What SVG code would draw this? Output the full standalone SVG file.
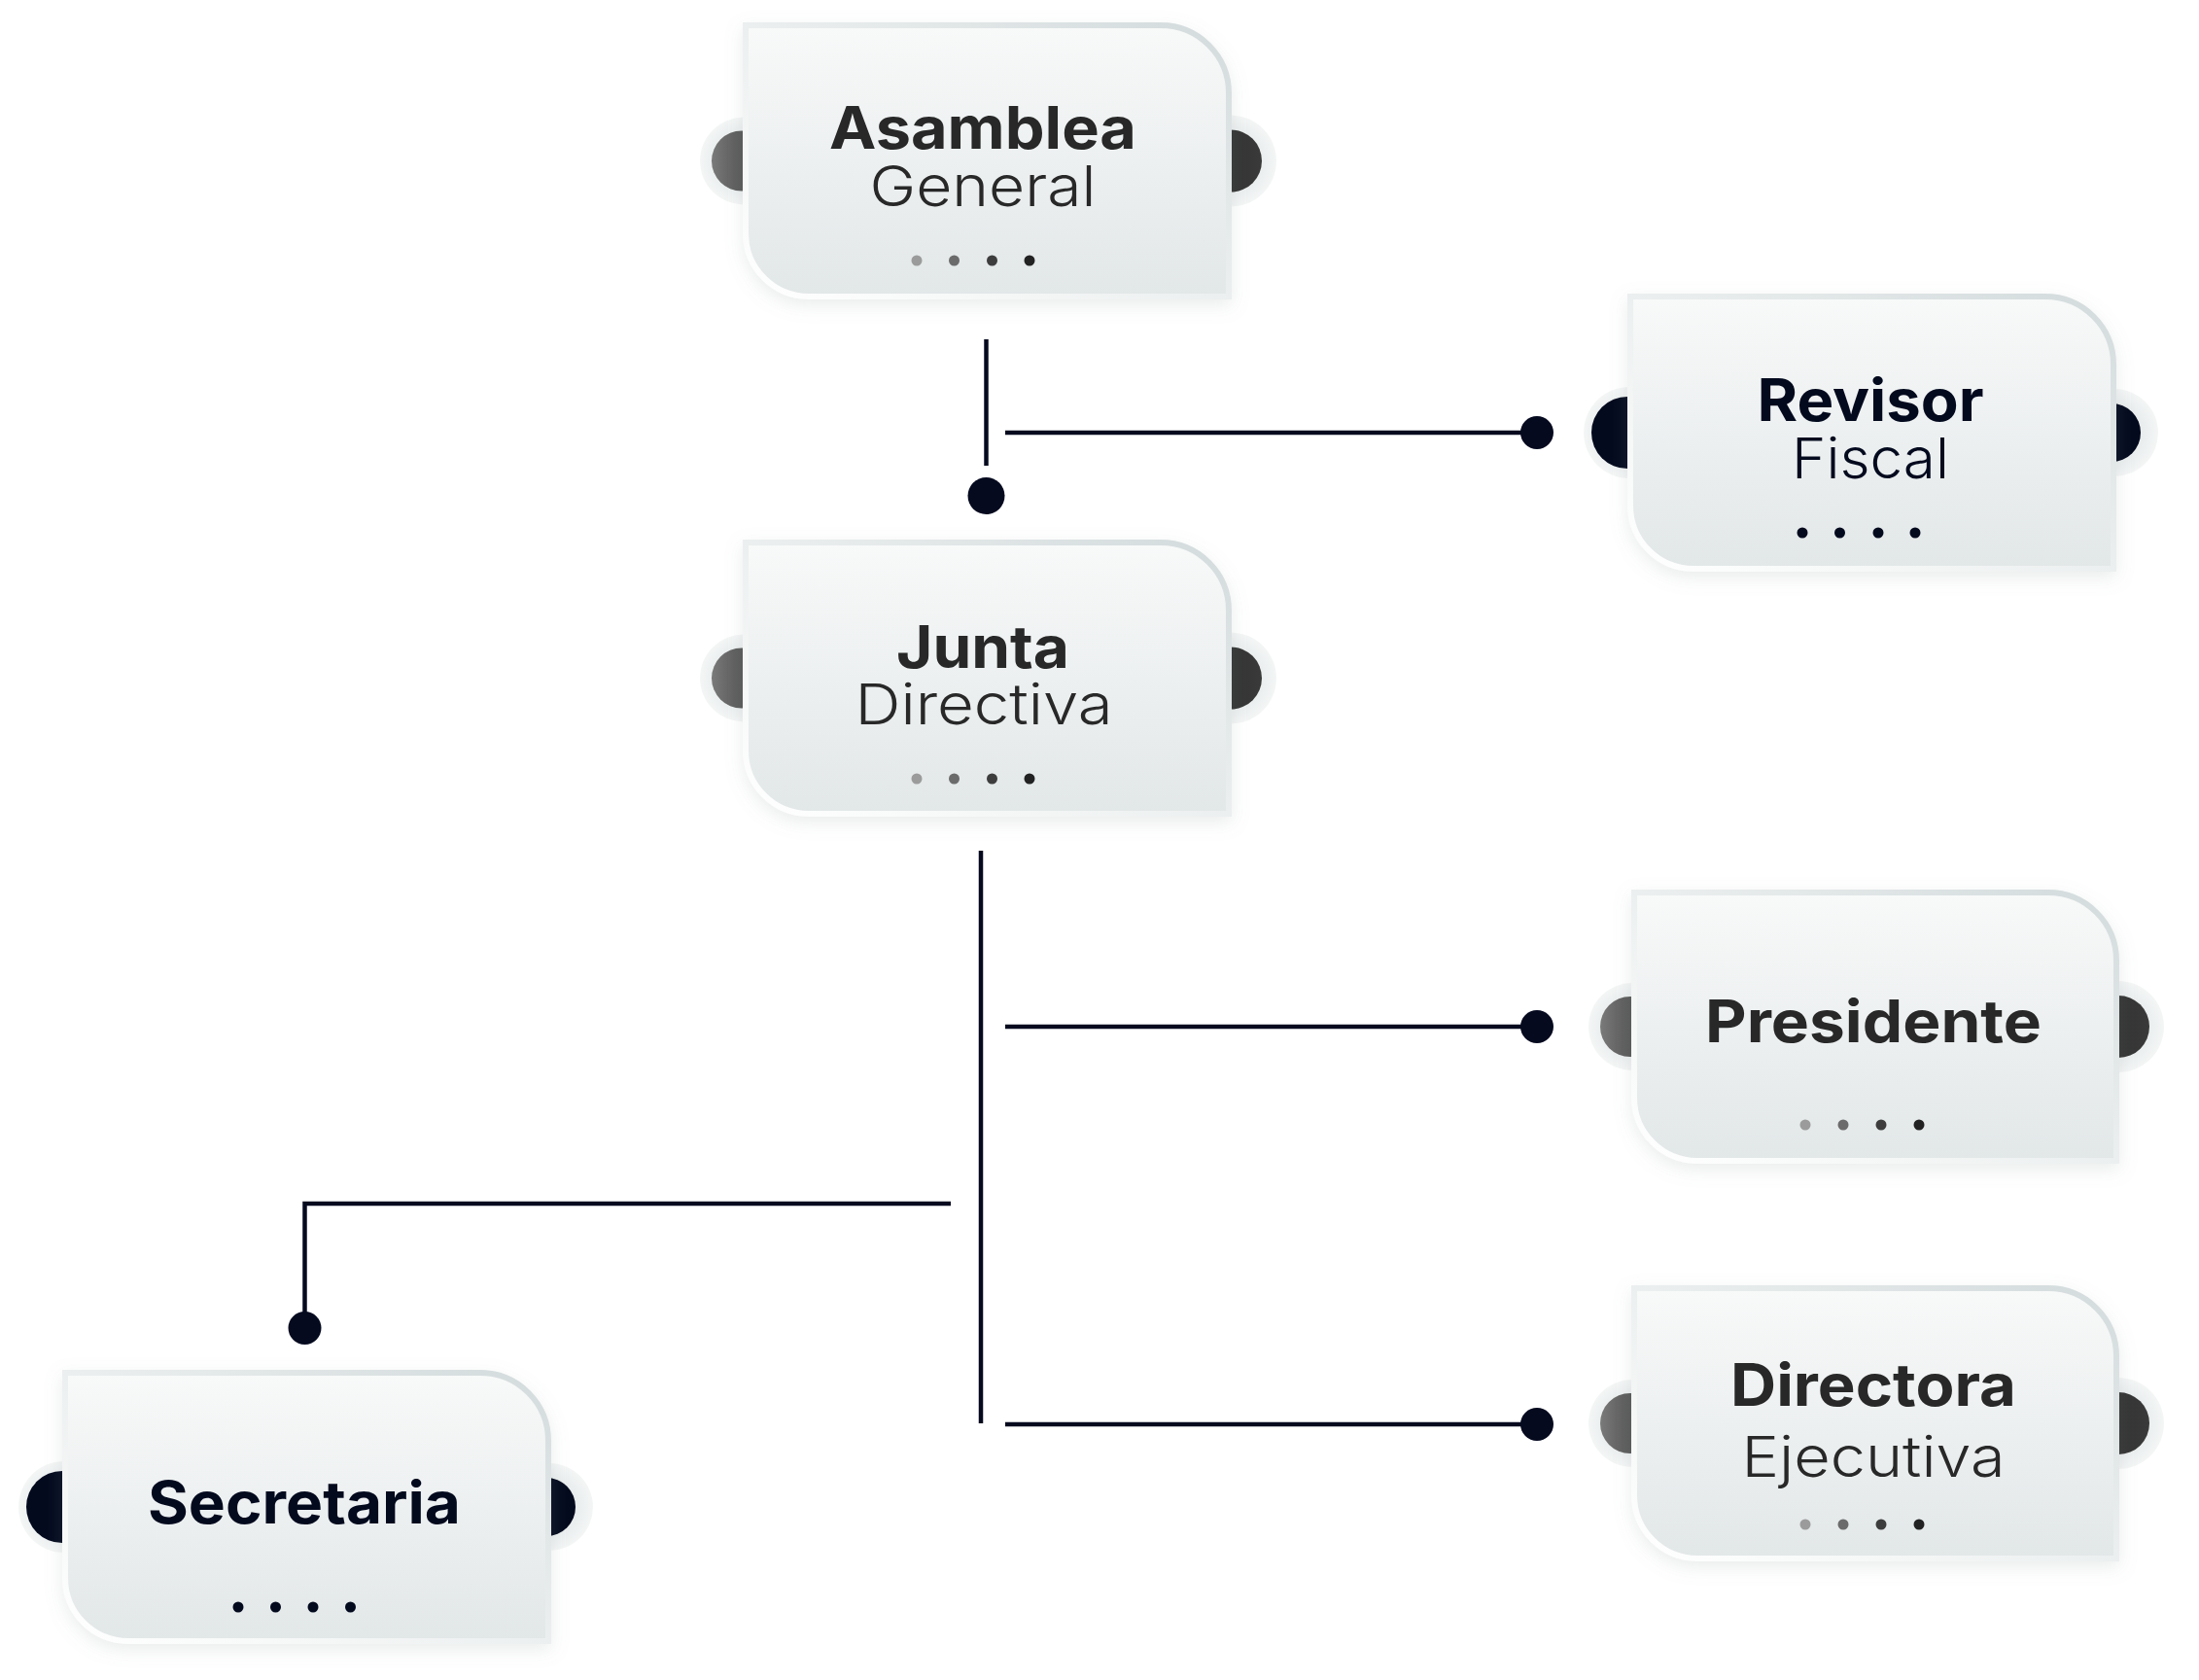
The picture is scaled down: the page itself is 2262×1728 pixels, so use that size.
<svg xmlns="http://www.w3.org/2000/svg" width="2262" height="1728" viewBox="0 0 2262 1728">
<style>
.box{fill:url(#boxFill);stroke:url(#boxStroke);stroke-width:6;filter:url(#shadow)}
.halo{fill:url(#haloFill)}
.tabL{fill:url(#tabGrayL)}
.tabR{fill:url(#tabGrayR)}
.navy{fill:#030a1e}
.t-bold{font-family:Inter,"Noto Sans","Liberation Sans",sans-serif;font-weight:700;font-size:60px;text-anchor:middle}
.t-light{font-family:Inter,"Noto Sans","Liberation Sans",sans-serif;font-weight:300;font-size:58px;text-anchor:middle}
.gray{fill:#282828}
.ntext{fill:#030a1e}
.d1{fill:#9b9b9b}.d2{fill:#6b6b6b}.d3{fill:#3d3d3d}.d4{fill:#222}
.conn{stroke:#050a1f;stroke-width:4.5;fill:none}
.cdot{fill:#050a1f}
</style>
<defs>
<linearGradient id="boxFill" x1="0" y1="0" x2="0" y2="1">
<stop offset="0" stop-color="#f8f9f9"/>
<stop offset="1" stop-color="#e2e7e8"/>
</linearGradient>
<linearGradient id="boxStroke" x1="0" y1="1" x2="1" y2="0">
<stop offset="0" stop-color="#ffffff"/>
<stop offset="0.45" stop-color="#eef1f1"/>
<stop offset="1" stop-color="#d3dbdc"/>
</linearGradient>
<radialGradient id="haloFill">
<stop offset="0.6" stop-color="#e8ecec"/>
<stop offset="1" stop-color="#f4f6f6"/>
</radialGradient>
<linearGradient id="tabGrayL" x1="0" y1="0" x2="1" y2="0">
<stop offset="0" stop-color="#7a7a7a"/>
<stop offset="1" stop-color="#333"/>
</linearGradient>
<linearGradient id="tabGrayR" x1="0" y1="0" x2="1" y2="0">
<stop offset="0" stop-color="#2a2a2a"/>
<stop offset="1" stop-color="#3a3a3a"/>
</linearGradient>
<filter id="shadow" x="-10%" y="-10%" width="120%" height="125%">
<feDropShadow dx="0" dy="6" stdDeviation="9" flood-color="#8a9596" flood-opacity="0.18"/>
</filter>
</defs>
<rect width="2262" height="1728" fill="#ffffff"/>

<g id="connectors">
<line class="conn" x1="1014.5" y1="349" x2="1014.5" y2="479"/>
<circle class="cdot" cx="1014.5" cy="510" r="19"/>
<line class="conn" x1="1034" y1="445" x2="1581" y2="445"/>
<circle class="cdot" cx="1581" cy="445" r="17"/>
<line class="conn" x1="1009" y1="875" x2="1009" y2="1464"/>
<line class="conn" x1="1034" y1="1056" x2="1581" y2="1056"/>
<circle class="cdot" cx="1581" cy="1056" r="17"/>
<line class="conn" x1="1034" y1="1465" x2="1581" y2="1465"/>
<circle class="cdot" cx="1581" cy="1465" r="17"/>
<path class="conn" d="M978 1238 H313.5 V1366"/>
<circle class="cdot" cx="313.5" cy="1366" r="17"/>
</g>

<g id="asamblea-general">
<circle class="halo" cx="765" cy="165.5" r="45"/>
<circle class="halo" cx="1266" cy="165.5" r="47"/>
<circle class="tabL" cx="763" cy="165.5" r="31"/>
<circle class="tabR" cx="1266" cy="165.5" r="32"/>
<path class="box" d="M767 26 H1194 A70 70 0 0 1 1264 96 V305 H832 A65 65 0 0 1 767 240 Z"/>
<text class="t-bold gray" x="1011" y="153" textLength="316" lengthAdjust="spacingAndGlyphs">Asamblea</text>
<text class="t-light gray" x="1011" y="212" textLength="233" lengthAdjust="spacingAndGlyphs">General</text>
<circle class="d1" cx="943" cy="268" r="5.5"/><circle class="d2" cx="981.5" cy="268" r="5.5"/><circle class="d3" cx="1020.5" cy="268" r="5.5"/><circle class="d4" cx="1059" cy="268" r="5.5"/>
</g>

<g id="junta-directiva">
<circle class="halo" cx="765" cy="697.5" r="45"/>
<circle class="halo" cx="1266" cy="697.5" r="47"/>
<circle class="tabL" cx="763" cy="697.5" r="31"/>
<circle class="tabR" cx="1266" cy="697.5" r="32"/>
<path class="box" d="M767 558 H1194 A70 70 0 0 1 1264 628 V837 H832 A65 65 0 0 1 767 772 Z"/>
<text class="t-bold gray" x="1011" y="687" textLength="178" lengthAdjust="spacingAndGlyphs">Junta</text>
<text class="t-light gray" x="1012" y="745" textLength="265" lengthAdjust="spacingAndGlyphs">Directiva</text>
<circle class="d1" cx="943" cy="801" r="5.5"/><circle class="d2" cx="981.5" cy="801" r="5.5"/><circle class="d3" cx="1020.5" cy="801" r="5.5"/><circle class="d4" cx="1059" cy="801" r="5.5"/>
</g>

<g id="revisor-fiscal">
<circle class="halo" cx="1676" cy="445" r="47"/>
<circle class="halo" cx="2175" cy="445" r="45"/>
<circle class="navy" cx="1674" cy="445" r="37"/>
<circle class="navy" cx="2172" cy="445" r="30"/>
<path class="box" d="M1677 305 H2104 A70 70 0 0 1 2174 375 V585 H1742 A65 65 0 0 1 1677 520 Z"/>
<text class="t-bold ntext" x="1924" y="433" textLength="233" lengthAdjust="spacingAndGlyphs">Revisor</text>
<text class="t-light ntext" x="1924" y="492" textLength="162" lengthAdjust="spacingAndGlyphs">Fiscal</text>
<circle class="navy" cx="1854" cy="548" r="5.5"/><circle class="navy" cx="1892.5" cy="548" r="5.5"/><circle class="navy" cx="1932" cy="548" r="5.5"/><circle class="navy" cx="1970" cy="548" r="5.5"/>
</g>

<g id="presidente">
<circle class="halo" cx="1679" cy="1056" r="45"/>
<circle class="halo" cx="2179" cy="1056" r="47"/>
<circle class="tabL" cx="1677" cy="1056" r="31"/>
<circle class="tabR" cx="2179" cy="1056" r="32"/>
<path class="box" d="M1681 918 H2107 A70 70 0 0 1 2177 988 V1194 H1746 A65 65 0 0 1 1681 1129 Z"/>
<text class="t-bold gray" x="1927" y="1072" textLength="346" lengthAdjust="spacingAndGlyphs">Presidente</text>
<circle class="d1" cx="1857" cy="1157" r="5.5"/><circle class="d2" cx="1896" cy="1157" r="5.5"/><circle class="d3" cx="1935" cy="1157" r="5.5"/><circle class="d4" cx="1974" cy="1157" r="5.5"/>
</g>

<g id="directora-ejecutiva">
<circle class="halo" cx="1679" cy="1464" r="45"/>
<circle class="halo" cx="2179" cy="1464" r="47"/>
<circle class="tabL" cx="1677" cy="1464" r="31"/>
<circle class="tabR" cx="2179" cy="1464" r="32"/>
<path class="box" d="M1681 1325 H2107 A70 70 0 0 1 2177 1395 V1603 H1746 A65 65 0 0 1 1681 1538 Z"/>
<text class="t-bold gray" x="1927" y="1446" textLength="294" lengthAdjust="spacingAndGlyphs">Directora</text>
<text class="t-light gray" x="1927" y="1519" textLength="271" lengthAdjust="spacingAndGlyphs">Ejecutiva</text>
<circle class="d1" cx="1857" cy="1568" r="5.5"/><circle class="d2" cx="1896" cy="1568" r="5.5"/><circle class="d3" cx="1935" cy="1568" r="5.5"/><circle class="d4" cx="1974" cy="1568" r="5.5"/>
</g>

<g id="secretaria">
<circle class="halo" cx="66" cy="1550" r="47"/>
<circle class="halo" cx="565" cy="1550" r="45"/>
<circle class="navy" cx="64" cy="1550" r="37"/>
<circle class="navy" cx="562" cy="1550" r="30"/>
<path class="box" d="M67 1412 H494 A70 70 0 0 1 564 1482 V1688 H132 A65 65 0 0 1 67 1623 Z"/>
<text class="t-bold ntext" x="313" y="1567" textLength="322" lengthAdjust="spacingAndGlyphs">Secretaria</text>
<circle class="navy" cx="245" cy="1653" r="5.5"/><circle class="navy" cx="283.5" cy="1653" r="5.5"/><circle class="navy" cx="322" cy="1653" r="5.5"/><circle class="navy" cx="360.5" cy="1653" r="5.5"/>
</g>
</svg>
